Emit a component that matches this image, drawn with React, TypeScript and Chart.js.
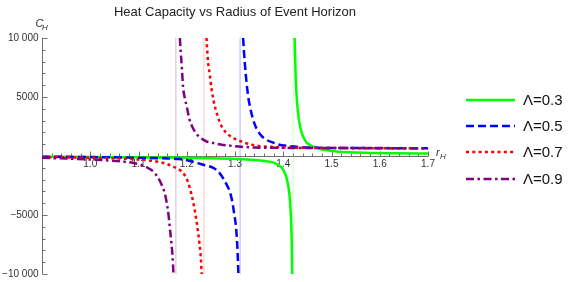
import React, { useEffect, useRef } from 'react';
import { Chart, registerables } from 'chart.js';

Chart.register(...registerables);

const titleText = 'Heat Capacity vs Radius of Event Horizon';
const seriesLabels = ['Λ=0.3', 'Λ=0.5', 'Λ=0.7', 'Λ=0.9'];
const seriesColors = ['rgb(0,255,0)', 'rgb(0,0,255)', 'rgb(255,0,0)', 'rgb(128,0,128)'];
const asymColors = ['rgba(0,255,0,0.22)', 'rgba(0,0,255,0.3)', 'rgba(255,0,0,0.22)', 'rgba(128,0,128,0.3)'];
const seriesDash: number[][] = [[], [8, 4], [3, 3.3], [8, 3.5, 2.5, 3.5]];
const asymptotes = [1.4204, 1.3105, 1.2355, 1.1775];

const X_MIN = 0.9;
const X_MAX = 1.7;
const Y_MIN = -10000;
const Y_MAX = 10000;

// Λ = 0.3 (green)
const rGreenNeg = [0.9, 1.0, 1.1, 1.2, 1.25, 1.3, 1.34, 1.365, 1.38, 1.39, 1.398, 1.404, 1.408, 1.411, 1.414, 1.416, 1.4175, 1.4185];
const cGreenNeg = [-60, -80, -110, -150, -190, -250, -330, -440, -560, -760, -1050, -1500, -2050, -2700, -3800, -5200, -7200, -10000];
const rGreenPos = [1.4236, 1.4245, 1.4259, 1.428, 1.4306, 1.434, 1.438, 1.443, 1.448, 1.455, 1.462, 1.475, 1.49, 1.51, 1.54, 1.58, 1.63, 1.7];
const cGreenPos = [10000, 8500, 6500, 4900, 3700, 2700, 2000, 1500, 1150, 950, 800, 620, 480, 380, 310, 260, 230, 210];

// Λ = 0.5 (blue)
const rBlueNeg = [0.9, 1.0, 1.1, 1.15, 1.186, 1.205, 1.22, 1.24, 1.255, 1.266, 1.275, 1.283, 1.289, 1.294, 1.298, 1.302, 1.305, 1.307];
const cBlueNeg = [-60, -90, -150, -200, -260, -400, -580, -800, -1000, -1350, -1860, -2450, -3000, -3800, -4800, -6000, -7800, -10000];
const rBluePos = [1.3168, 1.3185, 1.3203, 1.3235, 1.3271, 1.331, 1.3375, 1.345, 1.3549, 1.366, 1.378, 1.39, 1.41, 1.434, 1.47, 1.52, 1.6, 1.7];
const cBluePos = [10000, 8900, 7900, 6400, 5100, 4200, 3100, 2300, 1700, 1350, 1150, 980, 850, 760, 700, 680, 660, 650];

// Λ = 0.7 (red)
const rRedNeg = [0.9, 1.0, 1.05, 1.1, 1.13, 1.151, 1.168, 1.18, 1.189, 1.196, 1.2025, 1.21, 1.217, 1.222, 1.226, 1.229, 1.231];
const cRedNeg = [-90, -150, -200, -300, -420, -580, -820, -1050, -1300, -1650, -2200, -3280, -4700, -6000, -7300, -8500, -10000];
const rRedPos = [1.241, 1.2425, 1.2443, 1.2478, 1.2513, 1.256, 1.2617, 1.268, 1.2754, 1.288, 1.303, 1.322, 1.3445, 1.38, 1.4066, 1.45, 1.52, 1.6, 1.7];
const cRedPos = [10000, 8900, 7900, 6900, 5700, 4600, 3700, 2900, 2300, 1750, 1400, 1100, 880, 760, 710, 690, 670, 660, 650];

// Λ = 0.9 (purple)
const rPurpleNeg = [0.9, 0.95, 1.0, 1.04, 1.07, 1.09, 1.103, 1.117, 1.13, 1.14, 1.148, 1.154, 1.158, 1.162, 1.165, 1.168, 1.1705, 1.1725];
const cPurpleNeg = [-150, -220, -300, -380, -480, -600, -720, -950, -1290, -1800, -2430, -3100, -3850, -4900, -6100, -7300, -8500, -10000];
const rPurplePos = [1.1857, 1.1875, 1.1892, 1.1925, 1.196, 1.2, 1.205, 1.21, 1.218, 1.228, 1.24, 1.255, 1.27, 1.3, 1.34, 1.4, 1.5, 1.6, 1.7];
const cPurplePos = [10000, 8800, 7900, 5800, 4900, 4200, 3200, 2600, 2000, 1550, 1250, 1100, 980, 830, 720, 690, 680, 670, 660];

const xTickValues = [1.0, 1.1, 1.2, 1.3, 1.4, 1.5, 1.6, 1.7];
const xTickLabels = ['1.0', '1.1', '1.2', '1.3', '1.4', '1.5', '1.6', '1.7'];
const yTickValues = [10000, 5000, -5000, -10000];
const yTickLabels = ['10 000', '5000', '−5000', '−10 000'];

const FONT = '"Liberation Sans", Arial, sans-serif';
const AXIS_COLOR = '#6e6e6e';
const LABEL_COLOR = '#333333';

function pts(rs: number[], cs: number[]) {
  return rs.map((r, i) => ({ x: r, y: cs[i] }));
}

const branches = [
  [pts(rGreenNeg, cGreenNeg), pts(rGreenPos, cGreenPos)],
  [pts(rBlueNeg, cBlueNeg), pts(rBluePos, cBluePos)],
  [pts(rRedNeg, cRedNeg), pts(rRedPos, cRedPos)],
  [pts(rPurpleNeg, cPurpleNeg), pts(rPurplePos, cPurplePos)],
];

const mmaPlugin = {
  id: 'mmaAxes',
  beforeDatasetsDraw(chart: any) {
    const { ctx } = chart;
    const xs = chart.scales.x;
    const ys = chart.scales.y;
    const x0 = Math.round(xs.getPixelForValue(X_MIN)) + 0.5;
    const y0 = Math.round(ys.getPixelForValue(0)) + 0.5;
    const yTop = ys.getPixelForValue(Y_MAX);
    const yBot = ys.getPixelForValue(Y_MIN);
    const xEnd = xs.getPixelForValue(X_MAX);
    ctx.save();
    ctx.strokeStyle = AXIS_COLOR;
    ctx.lineWidth = 1;
    ctx.beginPath();
    ctx.moveTo(x0, yTop);
    ctx.lineTo(x0, yBot);
    ctx.moveTo(x0, y0);
    ctx.lineTo(xEnd, y0);
    for (let v = Y_MIN; v <= Y_MAX; v += 1000) {
      const py = Math.round(ys.getPixelForValue(v)) + 0.5;
      const len = v % 5000 === 0 ? 5 : 3;
      ctx.moveTo(x0, py);
      ctx.lineTo(x0 + len, py);
    }
    for (let i = 0; i <= 40; i++) {
      const v = X_MIN + i * 0.02;
      const px = Math.round(xs.getPixelForValue(v)) + 0.5;
      const len = i % 5 === 0 ? 5 : 3;
      ctx.moveTo(px, y0);
      ctx.lineTo(px, y0 - len);
    }
    ctx.stroke();

    ctx.fillStyle = LABEL_COLOR;
    ctx.font = `10px ${FONT}`;
    ctx.textAlign = 'center';
    ctx.textBaseline = 'top';
    xTickValues.forEach((v, i) => {
      ctx.fillText(xTickLabels[i], xs.getPixelForValue(v), y0 + 3);
    });
    ctx.textAlign = 'right';
    ctx.textBaseline = 'middle';
    yTickValues.forEach((v, i) => {
      ctx.fillText(yTickLabels[i], x0 - 4, ys.getPixelForValue(v));
    });

    ctx.textAlign = 'left';
    ctx.textBaseline = 'alphabetic';
    ctx.font = `italic 11px ${FONT}`;
    ctx.fillText('C', x0 - 7, yTop - 11);
    ctx.font = `italic 8px ${FONT}`;
    ctx.fillText('H', x0 - 0.5, yTop - 8.5);
    ctx.font = `italic 11px ${FONT}`;
    ctx.fillText('r', xEnd + 8, y0 - 1);
    ctx.font = `italic 8px ${FONT}`;
    ctx.fillText('H', xEnd + 12, y0 + 2.5);
    ctx.restore();
  },
  afterDraw(chart: any) {
    const { ctx } = chart;
    ctx.save();
    ctx.fillStyle = '#222222';
    ctx.font = `13px ${FONT}`;
    ctx.textAlign = 'center';
    ctx.textBaseline = 'alphabetic';
    ctx.fillText(titleText, 235, 15.5);

    const legendYs = [100, 126, 152, 179];
    seriesLabels.forEach((lab, i) => {
      const ly = legendYs[i];
      ctx.strokeStyle = seriesColors[i];
      ctx.lineWidth = 2.5;
      ctx.setLineDash(seriesDash[i]);
      ctx.beginPath();
      ctx.moveTo(466, ly);
      ctx.lineTo(515, ly);
      ctx.stroke();
      ctx.setLineDash([]);
      ctx.fillStyle = '#111111';
      ctx.font = `15px ${FONT}`;
      ctx.textAlign = 'left';
      ctx.textBaseline = 'middle';
      ctx.fillText(lab, 523, ly + 1);
    });
    ctx.restore();
  },
};

export default function App() {
  const ref = useRef<HTMLCanvasElement | null>(null);
  useEffect(() => {
    document.body.style.margin = '0';
    if (!ref.current) return;
    const datasets: any[] = [];
    asymptotes.forEach((a, i) => {
      datasets.push({
        label: 'asym' + i,
        data: [{ x: a, y: Y_MIN }, { x: a, y: Y_MAX }],
        borderColor: asymColors[i],
        borderWidth: 1,
        pointRadius: 0,
        showLine: true,
        order: 20,
      });
    });
    branches.forEach((pair, i) => {
      pair.forEach((data, j) => {
        datasets.push({
          label: seriesLabels[i] + (j === 0 ? ' neg' : ' pos'),
          data,
          borderColor: seriesColors[i],
          borderWidth: 2.5,
          borderDash: seriesDash[i],
          pointRadius: 0,
          showLine: true,
          cubicInterpolationMode: 'monotone',
          order: 10 - i,
        });
      });
    });
    const chart = new Chart(ref.current, {
      type: 'scatter',
      data: { datasets },
      plugins: [mmaPlugin],
      options: {
        animation: false,
        responsive: false,
        maintainAspectRatio: false,
        layout: { padding: { left: 42, right: 147, top: 38, bottom: 8 } },
        scales: {
          x: { type: 'linear', min: X_MIN, max: X_MAX, display: false },
          y: { type: 'linear', min: Y_MIN, max: Y_MAX, display: false },
        },
        plugins: {
          legend: { display: false },
          title: { display: false },
          tooltip: { enabled: false },
        },
      },
    } as any);
    return () => chart.destroy();
  }, []);
  return (
    <div style={{ width: 575, height: 282, background: '#fff' }}>
      <canvas ref={ref} width={575} height={282} style={{ display: 'block' }} />
    </div>
  );
}
